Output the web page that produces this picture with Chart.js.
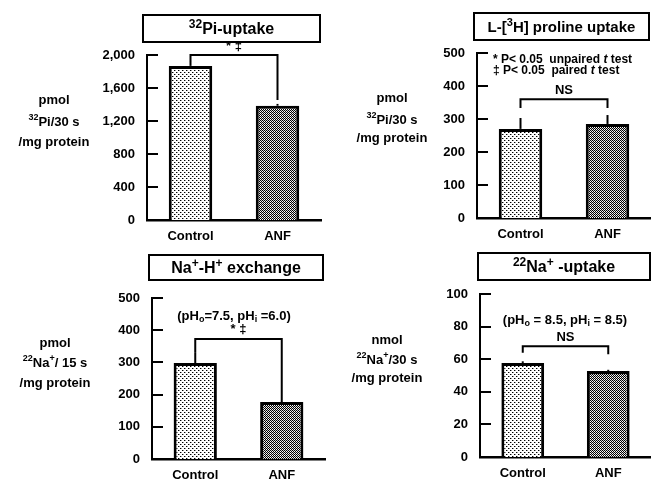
<!DOCTYPE html>
<html>
<head>
<meta charset="utf-8">
<title>ANF uptake panels</title>
<script src="https://cdn.jsdelivr.net/npm/chart.js@4.4.1/dist/chart.umd.min.js"></script>
<style>
  html, body { margin: 0; padding: 0; background: #fff; }
  #wrap { position: relative; width: 651px; height: 480px; }
  #wrap canvas { position: absolute; left: 0; top: 0; }
</style>
</head>
<body>
<div id="wrap">
  <canvas id="pi-chart" width="651" height="480"></canvas>
  <canvas id="proline-chart" width="651" height="480"></canvas>
  <canvas id="nah-chart" width="651" height="480"></canvas>
  <canvas id="na-chart" width="651" height="480"></canvas>
</div>
<script>
const CATEGORIES = ['Control', 'ANF'];

// 32Pi uptake, pmol/30 s/mg protein
const piValues = [1868, 1385];
const piErrors = [48, 22];
const piTicks = [0, 400, 800, 1200, 1600, 2000];
const piBracket = [2000, 1915, 1455];   // level, left leg end, right leg end

// L-[3H]proline uptake
const prolineValues = [270, 285];
const prolineErrors = [33, 27];
const prolineTicks = [0, 100, 200, 300, 400, 500];
const prolineBracket = [360, 333, 333];

// Na+-H+ exchange, pmol 22Na+/15 s/mg protein
const nahValues = [298, 177];
const nahErrors = [34, 28];
const nahTicks = [0, 100, 200, 300, 400, 500];
const nahBracket = [373, 332, 205];

// 22Na+ uptake, nmol 22Na+/30 s/mg protein
const naValues = [57.7, 52.7];
const naErrors = [1.0, 0.8];
const naTicks = [0, 20, 40, 60, 80, 100];
const naBracket = [68, 64, 63];

const FONT = '"Liberation Sans", Arial, Helvetica, sans-serif';
const W = 651, H = 480;
const Y_W = 60, X_H = 30;

// text with ^{sup}, _{sub}, ~{italic}
function parseRich(str) {
  const segs = [];
  const re = /([\^_~])\{([^}]*)\}/g;
  let last = 0, m;
  while ((m = re.exec(str))) {
    if (m.index > last) segs.push({ t: str.slice(last, m.index), k: '' });
    segs.push({ t: m[2], k: m[1] });
    last = re.lastIndex;
  }
  if (last < str.length) segs.push({ t: str.slice(last), k: '' });
  return segs;
}

function drawRich(ctx, str, x, y, size, align) {
  const segs = parseRich(str);
  const fontFor = k => {
    const s = (k === '^' || k === '_') ? Math.round(size * 0.72) : size;
    return (k === '~' ? 'italic ' : '') + 'bold ' + s + 'px ' + FONT;
  };
  let total = 0;
  segs.forEach(s => { ctx.font = fontFor(s.k); s.w = ctx.measureText(s.t).width; total += s.w; });
  let cx = align === 'left' ? x : x - total / 2;
  ctx.textBaseline = 'middle';
  ctx.textAlign = 'left';
  segs.forEach(s => {
    ctx.font = fontFor(s.k);
    const dy = s.k === '^' ? -size * 0.32 : (s.k === '_' ? size * 0.3 : 0);
    ctx.fillText(s.t, cx, y + dy);
    cx += s.w;
  });
}

// stipple tile: [x, y, colour] cells on white
function dotPattern(ctx, size, cells) {
  const c = document.createElement('canvas');
  c.width = c.height = size;
  const g = c.getContext('2d');
  g.fillStyle = '#fff';
  g.fillRect(0, 0, size, size);
  cells.forEach(([a, b, col]) => { g.fillStyle = col; g.fillRect(a, b, 1, 1); });
  return ctx.createPattern(c, 'repeat');
}

// title box, y title, inward ticks, error bars, bracket, notes
const panelDecor = {
  id: 'panelDecor',
  afterDraw(chart, args, opts) {
    const ctx = chart.ctx;
    const ys = chart.scales.y;
    const area = chart.chartArea;
    ctx.save();
    ctx.strokeStyle = '#000';
    ctx.fillStyle = '#000';
    ctx.lineWidth = 2;

    ys.ticks.forEach(t => {
      const py = Math.round(ys.getPixelForValue(t.value));
      ctx.beginPath();
      ctx.moveTo(area.left, py);
      ctx.lineTo(area.left + 11, py);
      ctx.stroke();
    });

    const vals = chart.data.datasets[0].data;
    const bars = chart.getDatasetMeta(0).data;
    bars.forEach((bar, i) => {
      const top = ys.getPixelForValue(vals[i] + opts.errors[i]);
      ctx.beginPath();
      ctx.moveTo(bar.x, bar.y);
      ctx.lineTo(bar.x, top);
      ctx.stroke();
    });

    const [level, legL, legR] = opts.bracket;
    const by = ys.getPixelForValue(level);
    const x0 = bars[0].x, x1 = bars[1].x;
    ctx.beginPath();
    ctx.moveTo(x0, ys.getPixelForValue(legL));
    ctx.lineTo(x0, by);
    ctx.lineTo(x1, by);
    ctx.lineTo(x1, ys.getPixelForValue(legR));
    ctx.stroke();
    drawRich(ctx, opts.bracketLabel, (x0 + x1) / 2, by - 9, 13, 'center');

    const [bx1, by1, bx2, by2] = opts.box;
    ctx.strokeRect(bx1, by1, bx2 - bx1, by2 - by1);
    drawRich(ctx, opts.title, (bx1 + bx2) / 2, (by1 + by2) / 2 + 1, opts.titleSize, 'center');

    opts.yTitle.forEach((line, i) => {
      drawRich(ctx, line, opts.yTitleX, opts.yTitleY[i], 13, 'center');
    });

    (opts.notes || []).forEach(n => drawRich(ctx, n.text, n.x, n.y, n.size, n.align));
    ctx.restore();
  }
};

function makePanel(id, values, errors, ticks, bracket, geo, decor) {
  const canvas = document.getElementById(id);
  const ctx = canvas.getContext('2d');
  const light = dotPattern(ctx, 4, [[0, 0, '#000'], [2, 2, '#000'], [1, 0, '#999'], [3, 2, '#999']]);
  const dark = dotPattern(ctx, 2, [[0, 0, '#000'], [1, 1, '#000'], [1, 0, '#ccc']]);
  const tickFont = { family: FONT, size: 13, weight: 'bold' };
  return new Chart(ctx, {
    type: 'bar',
    data: {
      labels: CATEGORIES,
      datasets: [{
        data: values,
        backgroundColor: [light, dark],
        borderColor: '#000',
        borderWidth: 3,
        categoryPercentage: 1,
        barPercentage: 0.5,
      }],
    },
    options: {
      responsive: false,
      animation: false,
      events: [],
      layout: {
        padding: {
          left: geo.left - Y_W,
          right: W - geo.right,
          top: geo.top,
          bottom: H - geo.bottom - X_H,
        },
      },
      plugins: {
        legend: { display: false },
        tooltip: { enabled: false },
        panelDecor: Object.assign({ errors, bracket }, decor),
      },
      scales: {
        x: {
          grid: { display: false, drawTicks: false },
          border: { display: true, color: '#000', width: 2.5 },
          ticks: { color: '#000', font: tickFont, padding: 9 },
          afterFit: s => { s.height = X_H; },
        },
        y: {
          min: ticks[0],
          max: ticks[ticks.length - 1],
          grid: { display: false, drawTicks: false },
          border: { display: true, color: '#000', width: 2 },
          ticks: {
            color: '#000',
            font: tickFont,
            padding: 12,
            callback: v => v.toLocaleString('en-US'),
          },
          afterBuildTicks: s => { s.ticks = ticks.map(v => ({ value: v })); },
          afterFit: s => { s.width = Y_W; },
        },
      },
    },
    plugins: [panelDecor],
  });
}

makePanel('pi-chart', piValues, piErrors, piTicks, piBracket,
  { left: 147, right: 321, top: 55, bottom: 220 },
  {
    title: '^{32}Pi-uptake', box: [143, 15, 320, 42], titleSize: 16,
    bracketLabel: '* ‡',
    yTitle: ['pmol', '^{32}Pi/30 s', '/mg protein'], yTitleX: 54, yTitleY: [100, 122, 142],
  });

makePanel('proline-chart', prolineValues, prolineErrors, prolineTicks, prolineBracket,
  { left: 477, right: 651, top: 53, bottom: 218 },
  {
    title: 'L-[^{3}H] proline uptake', box: [474, 13, 649, 40], titleSize: 15,
    bracketLabel: 'NS',
    yTitle: ['pmol', '^{32}Pi/30 s', '/mg protein'], yTitleX: 392, yTitleY: [98, 120, 138],
    notes: [
      { text: '* P< 0.05  unpaired ~{t} test', x: 493, y: 60, size: 12, align: 'left' },
      { text: '‡ P< 0.05  paired ~{t} test', x: 493, y: 71, size: 12, align: 'left' },
    ],
  });

makePanel('nah-chart', nahValues, nahErrors, nahTicks, nahBracket,
  { left: 152, right: 325, top: 298, bottom: 459 },
  {
    title: 'Na^{+}-H^{+} exchange', box: [149, 255, 323, 280], titleSize: 16,
    bracketLabel: '* ‡',
    yTitle: ['pmol', '^{22}Na^{+}/ 15 s', '/mg protein'], yTitleX: 55, yTitleY: [343, 363, 383],
    notes: [
      { text: '(pH_{o}=7.5, pH_{i} =6.0)', x: 234, y: 316, size: 13, align: 'center' },
    ],
  });

makePanel('na-chart', naValues, naErrors, naTicks, naBracket,
  { left: 480, right: 651, top: 294, bottom: 457 },
  {
    title: '^{22}Na^{+} -uptake', box: [478, 253, 650, 280], titleSize: 16,
    bracketLabel: 'NS',
    yTitle: ['nmol', '^{22}Na^{+}/30 s', '/mg protein'], yTitleX: 387, yTitleY: [340, 360, 378],
    notes: [
      { text: '(pH_{o} = 8.5, pH_{i} = 8.5)', x: 565, y: 320, size: 13, align: 'center' },
    ],
  });
</script>
</body>
</html>
